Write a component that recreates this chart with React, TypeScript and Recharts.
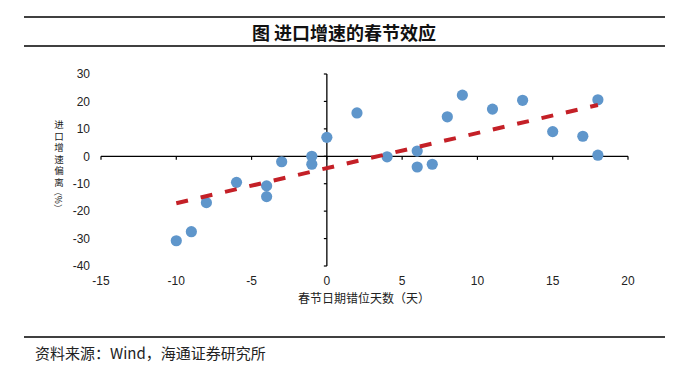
import React from "react";
import { ScatterChart, Scatter, XAxis, YAxis, ReferenceLine } from "recharts";

const xTicks = [-15, -10, -5, 0, 5, 10, 15, 20];
const yTicks = [-40, -30, -20, -10, 0, 10, 20, 30];
const days = [-10, -9, -8, -6, -4, -4, -3, -1, -1, 0, 2, 4, 6, 6, 7, 8, 9, 11, 13, 15, 17, 18, 18];
const deviation = [-30.8, -27.5, -16.9, -9.5, -10.8, -14.7, -2, 0, -2.9, 6.9, 15.8, -0.2, 1.9, -3.9, -2.9, 14.4, 22.3, 17.2, 20.4, 9.0, 7.3, 20.6, 0.4];
const trendDays = [-10, 18];
const trendValues = [-17.1, 18.7];

const title = "图  进口增速的春节效应";
const xLabel = "春节日期错位天数（天）";
const yLabelChars = ["进", "口", "增", "速", "偏", "离"];
const yLabelUnit = "（%）";
const source = "资料来源：Wind，海通证券研究所";

const points = days.map((d, i) => ({ x: d, y: deviation[i] }));
const trend = trendDays.map((d, i) => ({ x: d, y: trendValues[i] }));

const CJK = '"Noto Sans CJK SC", "Liberation Sans", sans-serif';

const Dot = (props: any) => {
  const { cx, cy } = props;
  if (cx == null || cy == null) return <g />;
  return <circle cx={cx} cy={cy} r={5.6} fill="#5f96cb" />;
};

const yLabelPos = [124, 135.5, 147, 158.5, 170, 181.5];

export default function App() {
  return (
    <div style={{ position: "absolute", left: 0, top: 0, width: 698, height: 375, background: "#fff" }}>
      <ScatterChart width={698} height={375} margin={{ top: 74, right: 70, bottom: 79, left: 41 }}>
        <XAxis
          type="number"
          dataKey="x"
          domain={[-15, 20]}
          ticks={xTicks}
          interval={0}
          axisLine={false}
          tickLine={false}
          height={30}
          tickSize={6}
          tickMargin={4}
          tick={{ fontSize: 12, fill: "#222", fontFamily: '"Liberation Sans", Arial, sans-serif' }}
        />
        <YAxis
          type="number"
          dataKey="y"
          domain={[-40, 30]}
          ticks={yTicks}
          interval={0}
          axisLine={false}
          tickLine={false}
          width={60}
          tickSize={6}
          tickMargin={5}
          tick={{ fontSize: 12, fill: "#222", fontFamily: '"Liberation Sans", Arial, sans-serif' }}
        />
        <ReferenceLine y={0} stroke="#000" strokeWidth={1.3} />
        <ReferenceLine x={0} stroke="#000" strokeWidth={1.3} />
        {xTicks.map((t) => (
          <ReferenceLine
            key={"xt" + t}
            segment={[{ x: t, y: 0 }, { x: t, y: -1.3 }]}
            stroke="#000"
            strokeWidth={1.2}
          />
        ))}
        {yTicks.map((t) => (
          <ReferenceLine
            key={"yt" + t}
            segment={[{ x: 0, y: t }, { x: -0.2, y: t }]}
            stroke="#000"
            strokeWidth={1.2}
          />
        ))}
        <Scatter data={points} shape={<Dot />} isAnimationActive={false} />
        <Scatter
          data={trend}
          line={{ stroke: "#c42027", strokeWidth: 4, strokeDasharray: "12 13" }}
          shape={() => <g />}
          isAnimationActive={false}
        />
      </ScatterChart>
      <svg
        width={698}
        height={375}
        style={{ position: "absolute", left: 0, top: 0, pointerEvents: "none" }}
      >
        <line x1={24} x2={665} y1={17} y2={17} stroke="#000" strokeWidth={1.5} />
        <line x1={24} x2={665} y1={46} y2={46} stroke="#000" strokeWidth={1.5} />
        <text
          x={344}
          y={32}
          textAnchor="middle"
          dominantBaseline="central"
          fontSize={18}
          fontWeight={600}
          fontFamily={CJK}
          fill="#111"
        >
          {title}
        </text>
        <text
          x={364}
          y={297}
          textAnchor="middle"
          dominantBaseline="central"
          fontSize={12}
          fontFamily={CJK}
          fill="#222"
        >
          {xLabel}
        </text>
        <text
          textAnchor="middle"
          dominantBaseline="central"
          fontSize={9.5}
          fontFamily={CJK}
          fill="#222"
        >
          {yLabelChars.map((c, i) => (
            <tspan key={"yl" + i} x={59} y={yLabelPos[i]}>
              {c}
            </tspan>
          ))}
        </text>
        <text
          x={59}
          y={200}
          textAnchor="middle"
          dominantBaseline="central"
          fontSize={8.5}
          fontFamily={CJK}
          fill="#222"
          transform="rotate(90 59 200)"
        >
          {yLabelUnit}
        </text>
        <line x1={24} x2={665} y1={337} y2={337} stroke="#000" strokeWidth={1.5} />
        <text
          x={35}
          y={352}
          dominantBaseline="central"
          fontSize={15}
          fontFamily={CJK}
          fill="#222"
        >
          {source}
        </text>
      </svg>
    </div>
  );
}
